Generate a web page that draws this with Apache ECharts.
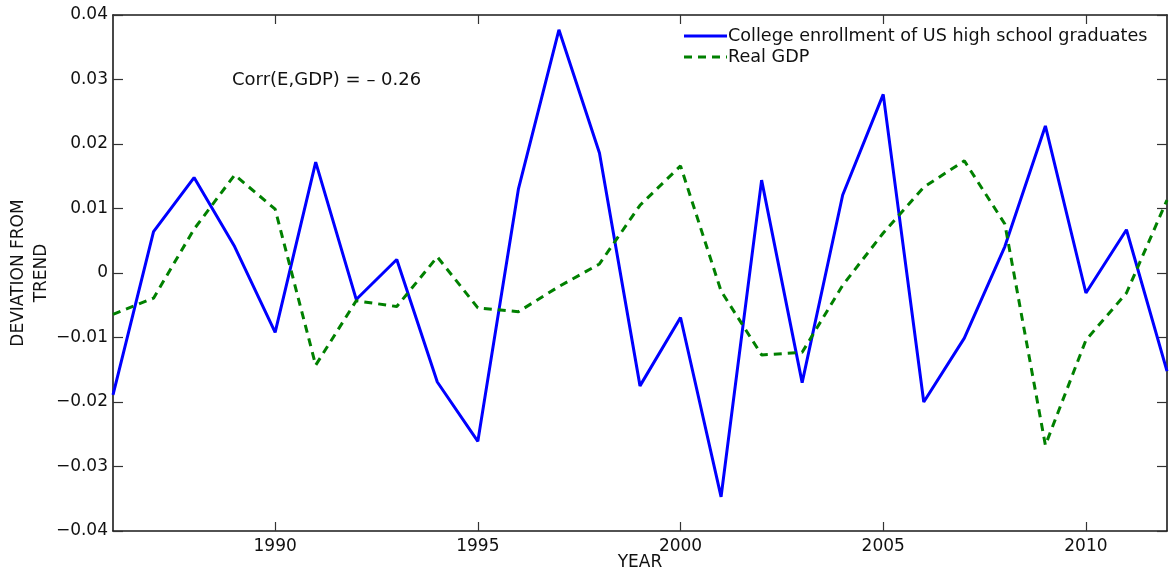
<!DOCTYPE html>
<html>
<head>
<meta charset="utf-8">
<script src="https://cdn.jsdelivr.net/npm/echarts@6/dist/echarts.min.js"></script>
<style>
  html, body { margin: 0; padding: 0; background: #fff; }
  #chart { width: 1171px; height: 575px; }
</style>
</head>
<body>
<div id="chart"></div>
<script>
// Years on the horizontal axis
const years = [1986, 1987, 1988, 1989, 1990, 1991, 1992, 1993, 1994, 1995, 1996, 1997, 1998,
  1999, 2000, 2001, 2002, 2003, 2004, 2005, 2006, 2007, 2008, 2009, 2010, 2011, 2012];

// Deviation from trend: college enrollment of US high school graduates
const enrollment = [-0.0189, 0.0064, 0.0148, 0.0041, -0.0092, 0.0172, -0.0041, 0.0021, -0.0169, -0.0261,
  0.0130, 0.0377, 0.0186, -0.0175, -0.0069, -0.0347, 0.0144, -0.0170, 0.0121, 0.0277,
  -0.0200, -0.0101, 0.0041, 0.0228, -0.0031, 0.0067, -0.0152];

// Deviation from trend: real GDP
const realGdp = [-0.0064, -0.0039, 0.0068, 0.0152, 0.0099, -0.0143, -0.0043, -0.0052, 0.0025, -0.0054,
  -0.0060, -0.0021, 0.0014, 0.0105, 0.0166, -0.0028, -0.0127, -0.0123, -0.0019, 0.0062,
  0.0133, 0.0174, 0.0076, -0.0267, -0.0104, -0.0031, 0.0113];

// Tick positions
const xTicks = [1990, 1995, 2000, 2005, 2010];
const yTicks = [-0.04, -0.03, -0.02, -0.01, 0, 0.01, 0.02, 0.03, 0.04];

const seriesNames = ['College enrollment of US high school graduates', 'Real GDP'];
const corrText = 'Corr(E,GDP) = \u2013 0.26';

const FONT = 'DejaVu Sans';
const BLUE = '#0000ff';
const GREEN = '#008000';
const DASH = [8, 6];

const pairs = (vals) => years.map((y, i) => [y, vals[i]]);
const fmtY = (v) => {
  const r = Math.round(v * 100) / 100;
  if (r === 0) return '0';
  const s = Math.abs(r).toFixed(2);
  return r < 0 ? '\u2212' + s : s;
};

const axisLine = { show: true, onZero: false, lineStyle: { color: '#1a1a1a', width: 1.6 } };
const tickStyle = { color: '#333', width: 1.2 };

// Key in the upper right: a short line sample followed by the series name
const keyLeft = 684, keyLine = 43, keyTop = 36, keyRow = 21;
const keyItems = [
  { name: seriesNames[0], color: BLUE, dash: 'solid' },
  { name: seriesNames[1], color: GREEN, dash: DASH }
];
const keyGraphics = [];
keyItems.forEach((k, i) => {
  const y = keyTop + i * keyRow;
  keyGraphics.push({ type: 'line', silent: true,
    shape: { x1: keyLeft, y1: y, x2: keyLeft + keyLine, y2: y },
    style: { stroke: k.color, lineWidth: 3, lineDash: k.dash === 'solid' ? null : k.dash } });
  keyGraphics.push({ type: 'text', silent: true, x: keyLeft + keyLine + 1, y: y,
    style: { text: k.name, font: '17.6px "DejaVu Sans"', fill: '#111', verticalAlign: 'middle' } });
});

const chart = echarts.init(document.getElementById('chart'), null, { renderer: 'canvas' });
chart.setOption({
  animation: false,
  backgroundColor: '#ffffff',
  grid: { left: 113, right: 4, top: 15, bottom: 44, containLabel: false },
  xAxis: [
    {
      type: 'value', min: years[0], max: years[years.length - 1], position: 'bottom',
      axisLine: axisLine,
      axisTick: { show: true, inside: true, length: 9, customValues: xTicks, lineStyle: tickStyle },
      axisLabel: { show: true, customValues: xTicks, margin: 7, color: '#111',
        fontFamily: FONT, fontSize: 17, formatter: (v) => String(v) },
      splitLine: { show: false }
    },
    {
      type: 'value', min: years[0], max: years[years.length - 1], position: 'top',
      axisLine: axisLine,
      axisTick: { show: true, inside: true, length: 9, customValues: xTicks, lineStyle: tickStyle },
      axisLabel: { show: false },
      splitLine: { show: false }
    }
  ],
  yAxis: [
    {
      type: 'value', min: -0.04, max: 0.04, interval: 0.01, position: 'left',
      axisLine: axisLine,
      axisTick: { show: true, inside: true, length: 10, lineStyle: tickStyle },
      axisLabel: { show: true, margin: 5, color: '#111', fontFamily: FONT, fontSize: 17,
        formatter: fmtY, customValues: yTicks },
      splitLine: { show: false }
    },
    {
      type: 'value', min: -0.04, max: 0.04, interval: 0.01, position: 'right',
      axisLine: axisLine,
      axisTick: { show: true, inside: true, length: 10, lineStyle: tickStyle },
      axisLabel: { show: false },
      splitLine: { show: false }
    }
  ],
  graphic: [
    { type: 'text', left: 232, top: 71,
      style: { text: corrText, font: '18px "DejaVu Sans"', fill: '#111' } },
    { type: 'text', x: 640, y: 563,
      style: { text: 'YEAR', font: '17px "DejaVu Sans"', fill: '#111', align: 'center', verticalAlign: 'middle' } },
    { type: 'text', x: 30, y: 273, rotation: Math.PI / 2,
      style: { text: 'DEVIATION FROM\nTREND', font: '17px "DejaVu Sans"', fill: '#111',
        align: 'center', verticalAlign: 'middle', lineHeight: 23 } }
  ].concat(keyGraphics),
  series: [
    {
      name: seriesNames[0], type: 'line', data: pairs(enrollment),
      symbol: 'none', color: BLUE,
      lineStyle: { color: BLUE, width: 3, type: 'solid' }
    },
    {
      name: seriesNames[1], type: 'line', data: pairs(realGdp),
      symbol: 'none', color: GREEN,
      lineStyle: { color: GREEN, width: 3, type: DASH }
    }
  ]
});
</script>
</body>
</html>
